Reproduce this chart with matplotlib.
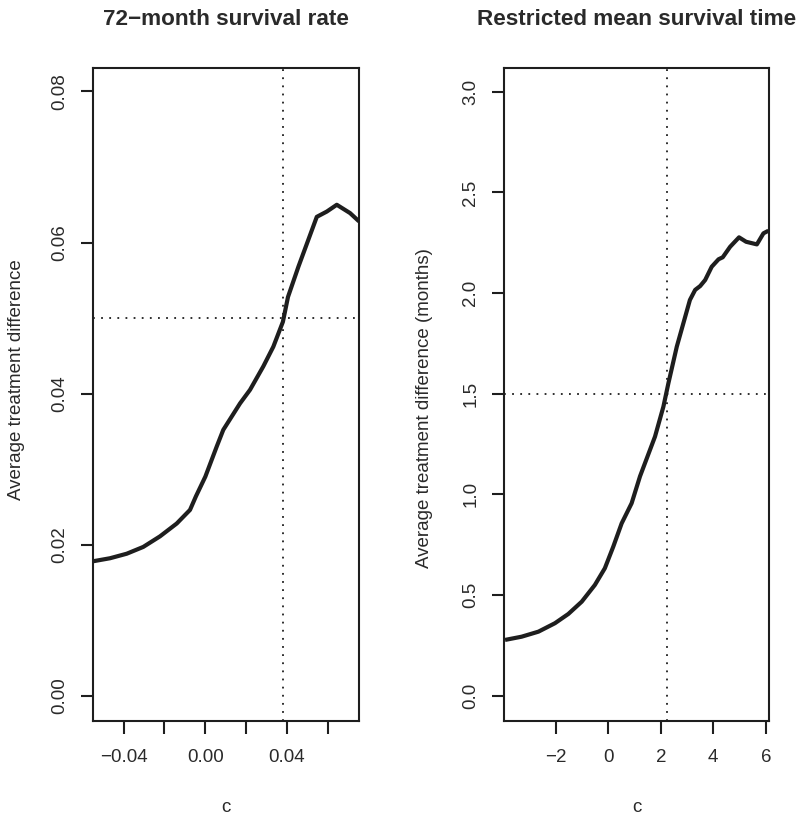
import matplotlib
matplotlib.use('Agg')
import matplotlib.pyplot as plt

# data
left_c = [-0.055, -0.0467, -0.0385, -0.0304, -0.0222, -0.014, -0.0075, -0.0046,
          0.0, 0.0056, 0.0088, 0.017, 0.0219, 0.0284, 0.0333, 0.038, 0.0405,
          0.0456, 0.0546, 0.0595, 0.0644, 0.0709, 0.0753]
left_y = [0.0178, 0.0182, 0.0188, 0.0197, 0.0211, 0.0228, 0.0246, 0.0264,
          0.0290, 0.0330, 0.0352, 0.0387, 0.0405, 0.0436, 0.0462, 0.0495, 0.0528,
          0.0568, 0.0634, 0.0641, 0.0650, 0.0639, 0.0628]
left_vline = 0.038
left_hline = 0.05
left_xticks = [-0.04, -0.02, 0.0, 0.02, 0.04, 0.06]
left_xlabels = ['\u22120.04', '', '0.00', '', '0.04', '']
left_yticks = [0.0, 0.02, 0.04, 0.06, 0.08]
left_ylabels = ['0.00', '0.02', '0.04', '0.06', '0.08']

right_c = [-3.93, -3.30, -2.66, -2.03, -1.52, -1.01, -0.51, -0.13, 0.19, 0.51,
           0.89, 1.21, 1.78, 2.10, 2.29, 2.61, 2.86, 3.11, 3.31, 3.50, 3.69,
           3.94, 4.20, 4.36, 4.64, 4.98, 5.25, 5.66, 5.91, 6.10]
right_y = [0.277, 0.293, 0.318, 0.360, 0.406, 0.467, 0.550, 0.633, 0.740, 0.856,
           0.956, 1.09, 1.287, 1.436, 1.552, 1.734, 1.850, 1.966, 2.016, 2.035,
           2.065, 2.131, 2.168, 2.178, 2.230, 2.277, 2.255, 2.242, 2.297, 2.310]
right_vline = 2.23
right_hline = 1.5
right_xticks = [-2, 0, 2, 4, 6]
right_xlabels = ['\u22122', '0', '2', '4', '6']
right_yticks = [0.0, 0.5, 1.0, 1.5, 2.0, 2.5, 3.0]
right_ylabels = ['0.0', '0.5', '1.0', '1.5', '2.0', '2.5', '3.0']

plt.rcParams['font.family'] = ['Liberation Sans', 'DejaVu Sans']
INK = '#1e1e1e'
TXT = '#2a2a2a'


def draw_panel(ax, c, y, vline, hline, xlim, ylim, xticks, xlabels,
               yticks, ylabels, title, ylabel, ylab_pos):
    ax.plot(c, y, color=INK, lw=3.0, solid_joinstyle='round',
            solid_capstyle='butt')
    ax.axvline(vline, color=INK, lw=1.3, ls=(0, (1, 3.5)))
    ax.axhline(hline, color=INK, lw=1.3, ls=(0, (1, 3.5)))
    ax.set_xlim(xlim)
    ax.set_ylim(ylim)

    ax.set_xticks(xticks)
    ax.set_xticklabels(xlabels)
    ax.set_yticks(yticks)
    ax.set_yticklabels(ylabels, rotation=90, va='center')
    ax.tick_params(axis='both', direction='out', length=9, width=1.5,
                   color=INK, labelsize=13.5, labelcolor=TXT)
    ax.tick_params(axis='x', pad=11.5)
    ax.tick_params(axis='y', pad=9)
    for s in ax.spines.values():
        s.set_linewidth(1.5)
        s.set_color(INK)

    ax.set_title(title, fontsize=16.2, fontweight='bold', color=TXT, pad=31)
    ax.set_xlabel('c', fontsize=13.5, color=TXT)
    ax.xaxis.set_label_coords(0.5, -0.12)
    ax.set_ylabel(ylabel, fontsize=13.5, color=TXT)
    ax.yaxis.set_label_coords(ylab_pos[0], ylab_pos[1])


def main():
    fig = plt.figure(figsize=(8, 8.25), dpi=100)

    ax1 = fig.add_axes([0.1163, 0.1265, 0.3325, 0.791])
    draw_panel(ax1, left_c, left_y, left_vline, left_hline,
               (-0.055, 0.0753), (-0.0033, 0.0831),
               left_xticks, left_xlabels, left_yticks, left_ylabels,
               '72\u2212month survival rate', 'Average treatment difference',
               (-0.256, 0.522))

    ax2 = fig.add_axes([0.6304, 0.1265, 0.331, 0.791])
    draw_panel(ax2, right_c, right_y, right_vline, right_hline,
               (-3.958, 6.126), (-0.124, 3.118),
               right_xticks, right_xlabels, right_yticks, right_ylabels,
               'Restricted mean survival time',
               'Average treatment difference (months)', (-0.269, 0.479))

    fig.savefig('out.png', dpi=100, facecolor='white')
    return 0


if '__main__' == __name__:
    main()
